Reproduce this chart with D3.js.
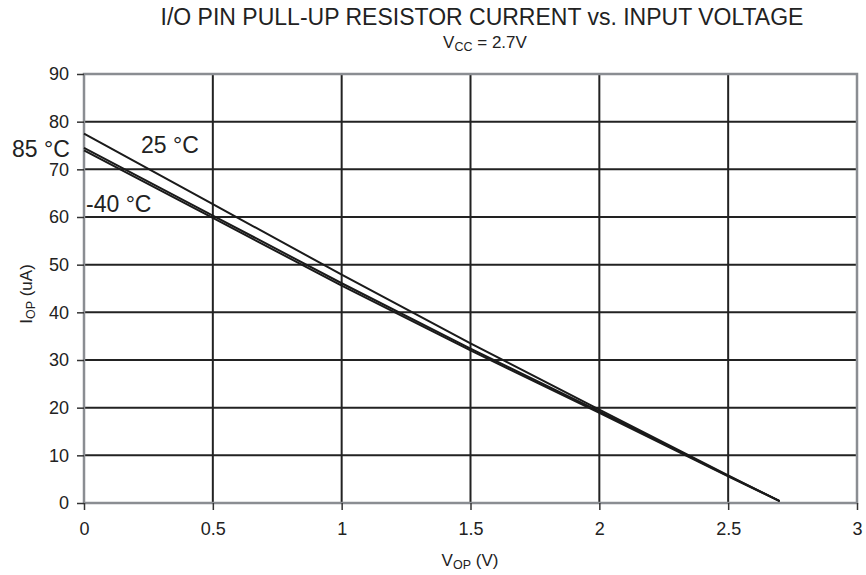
<!DOCTYPE html>
<html>
<head>
<meta charset="utf-8">
<script src="https://cdn.jsdelivr.net/npm/d3@7"></script>
<style>
  body { margin: 0; background: #fff; }
  text { font-family: "Liberation Sans", Arial, sans-serif; fill: #222; }
</style>
</head>
<body>
<div id="chart"></div>
<script>
// Data
const xTicks = [0, 0.5, 1, 1.5, 2, 2.5, 3]
const yTicks = [0, 10, 20, 30, 40, 50, 60, 70, 80, 90]
const vop = [0, 0.5, 1, 1.5, 2, 2.5, 2.7]
const iop25 = [77.5, 62.7, 47.9, 33.5, 19.6, 5.8, 0.4]
const iop85 = [74.5, 60.3, 46.1, 32.4, 19.2, 5.7, 0.4]
const iopM40 = [74.0, 59.8, 45.6, 32.0, 18.9, 5.6, 0.4]
const seriesNames = ["25 °C", "85 °C", "-40 °C"]

const dims = { width: 866, height: 575, left: 84, right: 857, top: 74, bottom: 503 }

const svg = d3.select('#chart')
  .append('svg')
  .attr('width', dims.width)
  .attr('height', dims.height)

// Scales
const xScale = d3.scaleLinear().domain([0, 3]).range([dims.left, dims.right])
const yScale = d3.scaleLinear().domain([0, 90]).range([dims.bottom, dims.top])

// grid
svg.append('g').selectAll('line')
  .data(xTicks.slice(1, -1))
  .join('line')
  .attr('x1', d => xScale(d)).attr('x2', d => xScale(d))
  .attr('y1', dims.top).attr('y2', dims.bottom)
  .attr('stroke', '#222').attr('stroke-width', 2)

svg.append('g').selectAll('line')
  .data(yTicks.slice(1, -1))
  .join('line')
  .attr('x1', dims.left).attr('x2', dims.right)
  .attr('y1', d => yScale(d)).attr('y2', d => yScale(d))
  .attr('stroke', '#222').attr('stroke-width', 2)

// frame
svg.append('rect')
  .attr('x', dims.left).attr('y', dims.top)
  .attr('width', dims.right - dims.left).attr('height', dims.bottom - dims.top)
  .attr('fill', 'none').attr('stroke', '#8a8d92').attr('stroke-width', 2.5)

// axes
const xAxis = svg.append('g')
  .attr('transform', `translate(0, ${dims.bottom})`)
  .call(d3.axisBottom(xScale).tickValues(xTicks).tickSize(7).tickSizeOuter(0).tickPadding(12).tickFormat(d3.format('')))
const yAxis = svg.append('g')
  .attr('transform', `translate(${dims.left}, 0)`)
  .call(d3.axisLeft(yScale).tickValues(yTicks).tickSize(7).tickSizeOuter(0).tickPadding(8))
;[xAxis, yAxis].forEach(ax => {
  ax.select('.domain').remove()
  ax.selectAll('.tick line').attr('stroke', '#333').attr('stroke-width', 1.5)
  ax.selectAll('.tick text').attr('font-size', 18).attr('fill', '#222')
    .style('font-family', '"Liberation Sans", Arial, sans-serif')
})

// lines
const line = d3.line().x((d, i) => xScale(vop[i])).y(d => yScale(d))
svg.append('g').selectAll('path')
  .data([iop25, iop85, iopM40])
  .join('path')
  .attr('d', line)
  .attr('fill', 'none')
  .attr('stroke', '#1a1a1a')
  .attr('stroke-width', 2)

// series labels
svg.append('text').attr('x', 141).attr('y', 153).attr('font-size', 23).text(seriesNames[0])
svg.append('text').attr('x', 12).attr('y', 157).attr('font-size', 23).text(seriesNames[1])
svg.append('text').attr('x', 86).attr('y', 212).attr('font-size', 23).text(seriesNames[2])

// titles
svg.append('text')
  .attr('x', 482).attr('y', 25)
  .attr('text-anchor', 'middle').attr('font-size', 23)
  .text('I/O PIN PULL-UP RESISTOR CURRENT vs. INPUT VOLTAGE')
const sub = svg.append('text')
  .attr('x', 485).attr('y', 48).attr('text-anchor', 'middle').attr('font-size', 17)
sub.append('tspan').text('V')
sub.append('tspan').attr('font-size', 12.5).attr('dy', 3).text('CC')
sub.append('tspan').attr('dy', -3).text(' = 2.7V')

const xl = svg.append('text')
  .attr('x', 470).attr('y', 566).attr('text-anchor', 'middle').attr('font-size', 17)
xl.append('tspan').text('V')
xl.append('tspan').attr('font-size', 12.5).attr('dy', 3).text('OP')
xl.append('tspan').attr('dy', -3).text(' (V)')

const yl = svg.append('text')
  .attr('transform', 'translate(32, 294) rotate(-90)')
  .attr('text-anchor', 'middle').attr('font-size', 17)
yl.append('tspan').text('I')
yl.append('tspan').attr('font-size', 12.5).attr('dy', 3).text('OP')
yl.append('tspan').attr('dy', -3).text(' (uA)')
</script>
</body>
</html>
